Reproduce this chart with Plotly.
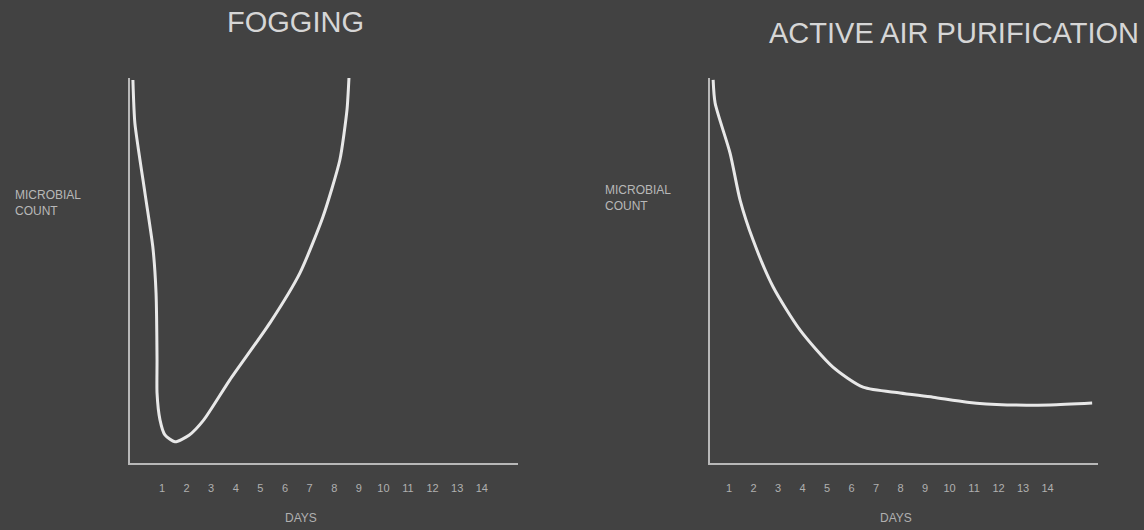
import plotly.graph_objects as go

# Data (arbitrary units for microbial count, 0-100)
fog_days = [-0.18, -0.1, 0.31, 0.63, 0.76, 0.8, 0.8, 0.92, 1.12, 1.53, 2.1, 2.7, 3.76,
            5.39, 6.61, 7.54, 8.23, 8.52, 8.6]
fog_count = [99.5, 88.3, 70.1, 56.1, 44.2, 26.8, 18.2, 11.2, 7.3, 5.5, 7.2, 11.2, 21.6,
             36.4, 49.4, 63.9, 78.7, 91.7, 100]

aap_days = [0.35, 0.43, 1.04, 1.45, 1.98, 2.8, 3.9, 5.24, 6.47, 7.98, 9.33, 10.72,
            12.35, 14.1, 15.82]
aap_count = [99.5, 93.5, 80.5, 68.3, 57.9, 45.7, 34.5, 24.9, 19.7, 18.2, 17.1, 15.8,
             15.1, 15.1, 15.6]

tick_days = list(range(1, 15))
tick_labels = [str(d) for d in tick_days]

titles = ["FOGGING", "ACTIVE AIR PURIFICATION"]
y_label = "MICROBIAL<br>COUNT"
x_label = "DAYS"

BG = "#424242"
LINE = "#e8e8e8"
AXIS = "#b8b8b8"
TXT = "#d6d6d6"
FONT = "Liberation Sans, Arial, sans-serif"

fig = go.Figure()
fig.add_trace(go.Scatter(x=fog_days, y=fog_count, mode="lines",
                         line=dict(color=LINE, width=3, shape="spline", smoothing=0.6),
                         xaxis="x", yaxis="y", showlegend=False, hoverinfo="skip", cliponaxis=False))
fig.add_trace(go.Scatter(x=aap_days, y=aap_count, mode="lines",
                         line=dict(color=LINE, width=3, shape="spline", smoothing=0.7),
                         xaxis="x2", yaxis="y2", showlegend=False, hoverinfo="skip", cliponaxis=False))

ydom = [0.1264, 0.8528]
common_x = dict(showgrid=False, zeroline=False, showline=True, linecolor=AXIS, linewidth=2,
                tickmode="array", tickvals=tick_days, ticktext=tick_labels,
                tickfont=dict(family=FONT, size=11, color="#b0b0b0"), ticks="",
                ticklabelstandoff=14, fixedrange=True)
common_y = dict(showgrid=False, zeroline=False, showline=True, linecolor=AXIS, linewidth=2,
                showticklabels=False, ticks="", range=[0, 100], fixedrange=True)

fig.update_layout(
    width=1144, height=530,
    paper_bgcolor=BG, plot_bgcolor=BG,
    margin=dict(l=0, r=0, t=0, b=0),
    xaxis=dict(domain=[0.1136, 0.4528], range=[-0.3, 15.47], anchor="y", **common_x),
    yaxis=dict(domain=ydom, anchor="x", **common_y),
    xaxis2=dict(domain=[0.6206, 0.9598], range=[0.22, 16.06], anchor="y2", **common_x),
    yaxis2=dict(domain=ydom, anchor="x2", **common_y),
    annotations=[
        dict(text=titles[0], x=295 / 1144, y=1 - 22 / 530, xref="paper", yref="paper",
             showarrow=False, xanchor="center", yanchor="middle",
             font=dict(family=FONT, size=29, color=TXT)),
        dict(text=titles[1], x=954 / 1144, y=1 - 33 / 530, xref="paper", yref="paper",
             showarrow=False, xanchor="center", yanchor="middle",
             font=dict(family=FONT, size=29, color=TXT)),
        dict(text=y_label, x=13 / 1144, y=1 - 203 / 530, xref="paper", yref="paper",
             showarrow=False, xanchor="left", yanchor="middle", align="left",
             font=dict(family=FONT, size=12, color="#b8b8b8")),
        dict(text=y_label, x=603 / 1144, y=1 - 198 / 530, xref="paper", yref="paper",
             showarrow=False, xanchor="left", yanchor="middle", align="left",
             font=dict(family=FONT, size=12, color="#b8b8b8")),
        dict(text=x_label, x=301 / 1144, y=1 - 518 / 530, xref="paper", yref="paper",
             showarrow=False, xanchor="center", yanchor="middle",
             font=dict(family=FONT, size=12, color="#b0b0b0")),
        dict(text=x_label, x=896 / 1144, y=1 - 518 / 530, xref="paper", yref="paper",
             showarrow=False, xanchor="center", yanchor="middle",
             font=dict(family=FONT, size=12, color="#b0b0b0")),
    ],
)

fig.write_html("out.html", config={"displayModeBar": False},
               post_script="document.body.style.margin='0';document.body.style.background='#424242';")
